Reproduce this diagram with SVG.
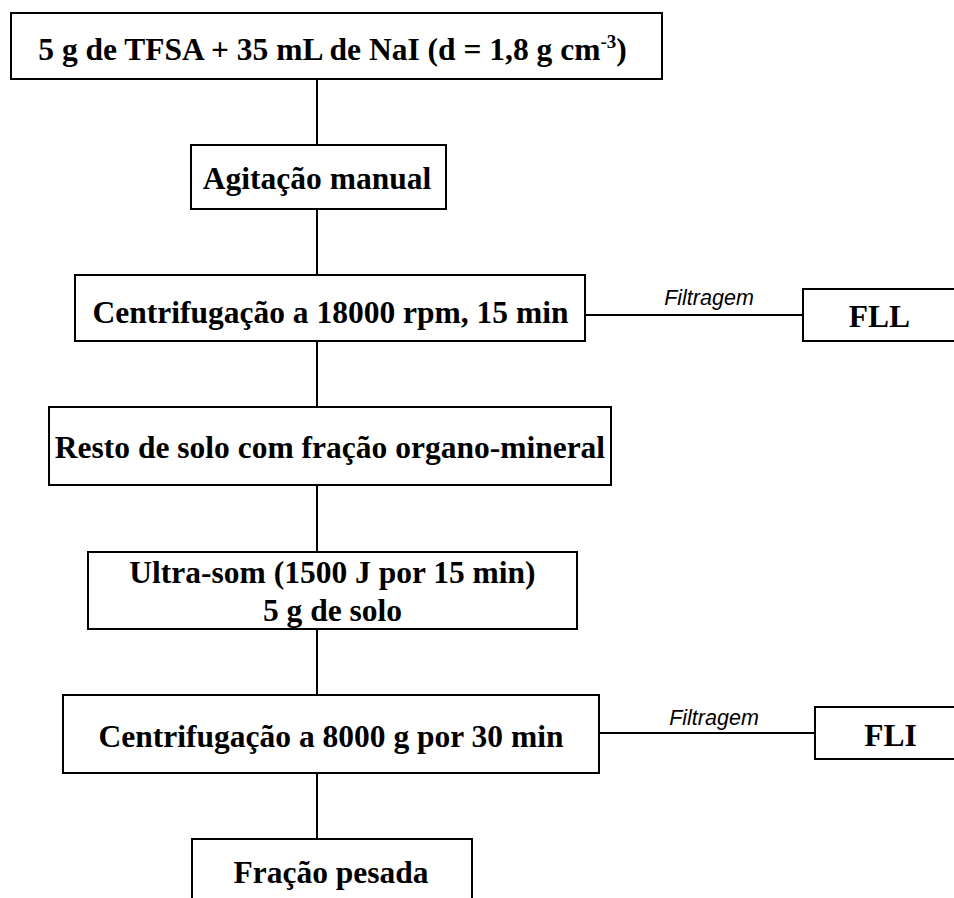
<svg xmlns="http://www.w3.org/2000/svg" width="954" height="898" viewBox="0 0 954 898">
<style>
.box{fill:#fff;stroke:#000;stroke-width:2}
.t{font-family:"Liberation Serif","Times New Roman",serif;font-weight:bold;font-size:31.5px;fill:#000;text-anchor:middle}
.lbl{font-family:"Liberation Sans",Arial,sans-serif;font-style:italic;font-size:21.5px;fill:#000;text-anchor:middle}
.c{stroke:#000;stroke-width:2;fill:none}
</style>
<rect width="954" height="898" fill="#fff"/>
<g id="connectors">
<line class="c" x1="317" y1="79" x2="317" y2="145"/>
<line class="c" x1="317" y1="209" x2="317" y2="275"/>
<line class="c" x1="317" y1="341" x2="317" y2="407"/>
<line class="c" x1="317" y1="485" x2="317" y2="552"/>
<line class="c" x1="317" y1="629" x2="317" y2="695"/>
<line class="c" x1="317" y1="773" x2="317" y2="839"/>
<line class="c" x1="585" y1="315" x2="803" y2="315"/>
<text class="lbl" x="709" y="305">Filtragem</text>
<line class="c" x1="599" y1="733" x2="815" y2="733"/>
<text class="lbl" x="714" y="725">Filtragem</text>
</g>
<g id="n1">
<rect class="box" x="11" y="13" width="651" height="66"/>
<text class="t" x="332.5" y="60">5 g de TFSA + 35 mL de NaI (d = 1,8 g cm<tspan font-size="19" dy="-12">-3</tspan><tspan dy="12">)</tspan></text>
</g>
<g id="n2">
<rect class="box" x="191" y="145" width="255" height="64"/>
<text class="t" x="317" y="189">Agitação manual</text>
</g>
<g id="n3">
<rect class="box" x="75" y="275" width="510" height="66"/>
<text class="t" x="330.5" y="323">Centrifugação a 18000 rpm, 15 min</text>
</g>
<g id="n4">
<rect class="box" x="49" y="407" width="562" height="78"/>
<text class="t" x="330" y="458">Resto de solo com fração organo-mineral</text>
</g>
<g id="n5">
<rect class="box" x="88" y="552" width="489" height="77"/>
<text class="t" x="332.5" y="583">Ultra-som (1500 J por 15 min)</text>
<text class="t" x="332.5" y="621">5 g de solo</text>
</g>
<g id="n6">
<rect class="box" x="63" y="695" width="536" height="78"/>
<text class="t" x="331" y="747">Centrifugação a 8000 g por 30 min</text>
</g>
<g id="n7">
<rect class="box" x="192" y="839" width="280" height="80"/>
<text class="t" x="331" y="883">Fração pesada</text>
</g>
<g id="fll">
<rect class="box" x="803" y="289" width="160" height="52"/>
<text class="t" x="879.5" y="327">FLL</text>
</g>
<g id="fli">
<rect class="box" x="815" y="707" width="160" height="52"/>
<text class="t" x="890.5" y="746">FLI</text>
</g>
</svg>
